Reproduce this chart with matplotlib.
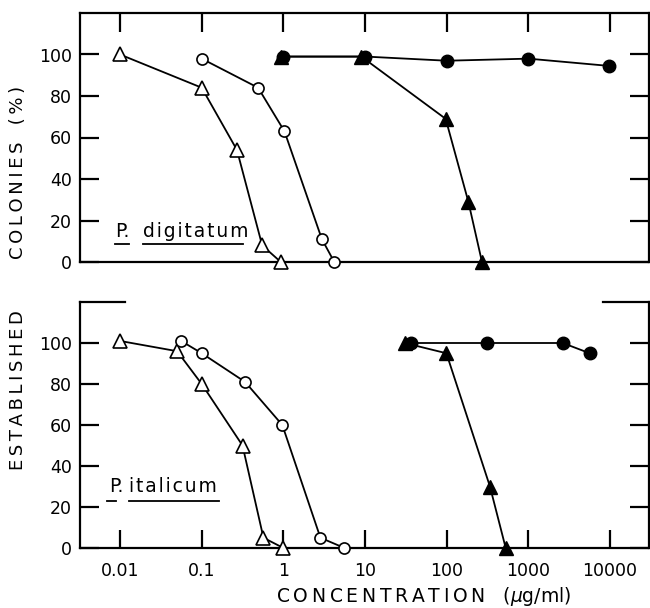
import matplotlib.pyplot as plt
import numpy as np

# P. digitatum (top panel)
dig_open_tri_x = [0.01, 0.1, 0.27, 0.55, 0.93]
dig_open_tri_y = [100, 84, 54, 8, 0]
dig_open_circ_x = [0.1, 0.49, 1.03, 2.96, 4.2]
dig_open_circ_y = [98, 84, 63, 11, 0]
dig_fill_tri_x = [0.93, 9.0, 97, 184, 270]
dig_fill_tri_y = [99, 99, 69, 29, 0]
dig_fill_circ_x = [1.0, 10.1, 100, 1000, 9700]
dig_fill_circ_y = [99, 99, 97, 98, 94.5]

# P. italicum (bottom panel)
ita_open_tri_x = [0.01, 0.05, 0.1, 0.316, 0.57, 1.0]
ita_open_tri_y = [101, 96, 80, 50, 5, 0]
ita_open_circ_x = [0.056, 0.1, 0.34, 0.97, 2.84, 5.6]
ita_open_circ_y = [101, 95, 81, 60, 5, 0]
ita_fill_tri_x = [30.6, 99, 338, 527]
ita_fill_tri_y = [100, 95, 30, 0]
ita_fill_circ_x = [36.5, 308, 2630, 5630]
ita_fill_circ_y = [100, 100, 100, 95]

xticks = [0.01, 0.1, 1, 10, 100, 1000, 10000]
xticklabels = ['0.01', '0.1', '1', '10', '100', '1000', '10000']
yticks = [0, 20, 40, 60, 80, 100]

plt.rcParams['font.family'] = ['DejaVu Sans']
fig = plt.figure(figsize=(6.5, 6.08), dpi=100)
ax1 = fig.add_axes([80 / 650, 1 - 262 / 608, 568.5 / 650, 249 / 608])
ax2 = fig.add_axes([80 / 650, 1 - 548 / 608, 568.5 / 650, 246 / 608])

xlim = (10 ** -2.49, 10 ** 4.47)


def draw_series(ax, otx, oty, ocx, ocy, ftx, fty, fcx, fcy):
    kw = dict(color='black', lw=1.3, zorder=3, clip_on=False)
    ax.plot(otx, oty, marker='^', ms=10, mfc='white', mec='black', mew=1.2, **kw)
    ax.plot(ocx, ocy, marker='o', ms=8, mfc='white', mec='black', mew=1.2, **kw)
    ax.plot(ftx, fty, marker='^', ms=10, mfc='black', mec='black', **kw)
    ax.plot(fcx, fcy, marker='o', ms=9, mfc='black', mec='black', **kw)


draw_series(ax1, dig_open_tri_x, dig_open_tri_y, dig_open_circ_x, dig_open_circ_y,
            dig_fill_tri_x, dig_fill_tri_y, dig_fill_circ_x, dig_fill_circ_y)
draw_series(ax2, ita_open_tri_x, ita_open_tri_y, ita_open_circ_x, ita_open_circ_y,
            ita_fill_tri_x, ita_fill_tri_y, ita_fill_circ_x, ita_fill_circ_y)

for ax in (ax1, ax2):
    ax.set_xscale('log')
    ax.set_xlim(*xlim)
    ax.set_ylim(0, 120)
    ax.set_yticks(yticks)
    ax.set_yticklabels([str(t) for t in yticks], fontsize=12.5)
    ax.minorticks_off()
    for s in ax.spines.values():
        s.set_linewidth(1.6)
    ax.tick_params(axis='y', which='both', direction='in', length=14, width=1.6,
                   left=True, right=True, labelleft=True, pad=6)

# top panel: ticks on top, no bottom labels
ax1.set_xticks(xticks)
ax1.tick_params(axis='x', direction='in', length=14, width=1.6,
                top=True, bottom=False, labelbottom=False, labeltop=False)
ax1.text(0.0087, 14.5, 'P.', fontsize=13.5, va='center')
ax1.text(0.019, 14.5, 'd\u200ai\u200ag\u200ai\u200at\u200aa\u200at\u200au\u200am', fontsize=13.5, va='center')
ax1.plot([0.0087, 0.0129], [8.5, 8.5], color='black', lw=1.3, clip_on=False)
ax1.plot([0.019, 0.32], [8.5, 8.5], color='black', lw=1.3, clip_on=False)

# bottom panel: ticks on bottom, partial top spine
ax2.set_xticks(xticks)
ax2.set_xticklabels(xticklabels, fontsize=12.5)
ax2.tick_params(axis='x', direction='in', length=13, width=1.6,
                top=False, bottom=True, pad=10)
ax2.spines['top'].set_visible(False)
ax2.plot([0, 0.08], [1, 1], transform=ax2.transAxes, color='black', lw=1.6, clip_on=False)
ax2.plot([0.92, 1], [1, 1], transform=ax2.transAxes, color='black', lw=1.6, clip_on=False)
ax2.text(0.0073, 30, 'P.', fontsize=13.5, va='center')
ax2.text(0.0129, 30, 'i\u200at\u200aa\u200al\u200ai\u200ac\u200au\u200am', fontsize=13.5, va='center')
ax2.plot([0.0069, 0.0089], [23, 23], color='black', lw=1.3, clip_on=False)
ax2.plot([0.0129, 0.163], [23, 23], color='black', lw=1.3, clip_on=False)

fig.text(424 / 650, 1 - 597 / 608,
         'C\u2009O\u2009N\u2009C\u2009E\u2009N\u2009T\u2009R\u2009A\u2009T\u2009I\u2009O\u2009N   ($\\mu$g/ml)',
         ha='center', va='center', fontsize=13.5)
fig.text(18 / 650, 1 - 172 / 608, 'C\u2009O\u2009L\u2009O\u2009N\u2009I\u2009E\u2009S   (\u2009%\u2009)',
         rotation=90, ha='center', va='center', fontsize=13)
fig.text(18 / 650, 1 - 390 / 608, 'E\u2009S\u2009T\u2009A\u2009B\u2009L\u2009I\u2009S\u2009H\u2009E\u2009D',
         rotation=90, ha='center', va='center', fontsize=13)

fig.savefig('out.png', dpi=100)
